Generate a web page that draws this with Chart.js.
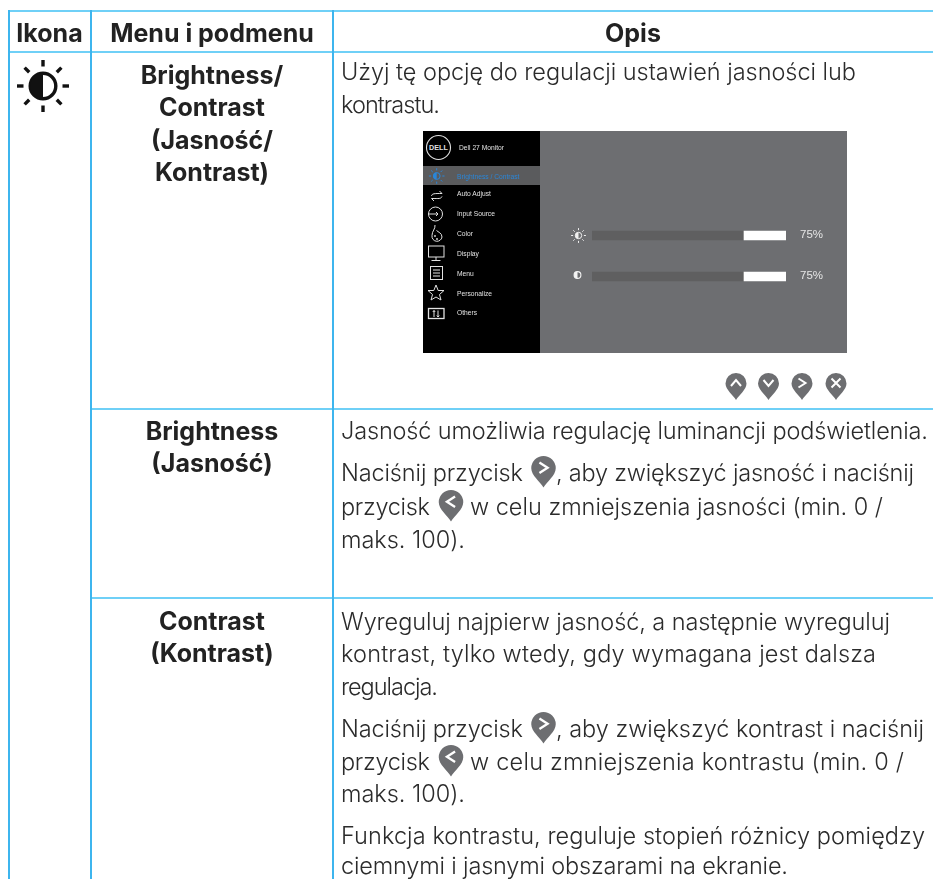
<!DOCTYPE html>
<html lang="pl"><head><meta charset="utf-8">
<script src="https://cdn.jsdelivr.net/npm/chart.js@4"></script>
<style>
html,body{margin:0;padding:0;background:#fff;overflow:hidden}
#page{position:relative;width:933px;height:879px;filter:blur(.3px);overflow:hidden}
.rule{position:absolute;background:#6fd0f7}
.v{background:#3db5ee}
.t{position:absolute;white-space:nowrap;transform:translateY(-50%);line-height:.9}
.head,.sub{font-family:"Inter",sans-serif;font-weight:700;font-size:25px;line-height:.9;color:#222}
.c{transform:translate(-50%,-50%)}
.body{font-family:"Inter",sans-serif;font-weight:300;font-size:23.5px;line-height:.9;color:#2b2b2b}
#osd{position:absolute;left:423px;top:131px;width:424px;height:222px;background:#6d6e71}
#side{position:absolute;left:0;top:0;width:117px;height:222px;background:#000}
#hi{position:absolute;left:0;top:35px;width:117px;height:19px;background:#5a5b5d}
.m{position:absolute;left:34px;font:6.7px "Liberation Sans",sans-serif;color:#e2e2e2;transform:translateY(-50%);white-space:nowrap;filter:blur(.2px)}
svg{position:absolute;overflow:visible}
canvas{position:absolute;left:117px;top:0}
</style></head><body><div id="page">
<div id="osd"><div id="side"><div id="hi"></div></div><canvas id="bars" width="307" height="222"></canvas></div>
</div>
<script>
const categories=['Brightness','Contrast'];
const values=[75,75];
const tickLabels=['75%','75%'];
const axisStart=-15.5, axisEnd=100;
const headers=['Ikona','Menu i podmenu','Opis'];
const menuTitle='Dell 27 Monitor';
const menuItems=['Brightness / Contrast','Auto Adjust','Input Source','Color','Display','Menu','Personalize','Others'];
const subLabels=['Brightness/','Contrast','(Jasność/','Kontrast)','Brightness','(Jasność)','Contrast','(Kontrast)'];
const bodyLines=['Użyj tę opcję do regulacji ustawień jasności lub','kontrastu.','Jasność umożliwia regulację luminancji podświetlenia.','maks. 100).','Wyreguluj najpierw jasność, a następnie wyreguluj','kontrast, tylko wtedy, gdy wymagana jest dalsza','regulacja.','maks. 100).','Funkcja kontrastu, reguluje stopień różnicy pomiędzy','ciemnymi i jasnymi obszarami na ekranie.'];
const pressLine='Naciśnij przycisk';
const pressBright=', aby zwiększyć jasność i naciśnij';
const pressContrast=', aby zwiększyć kontrast i naciśnij';
const btnWord='przycisk';
const lessBright='w celu zmniejszenia jasności (min. 0 /';
const lessContrast='w celu zmniejszenia kontrastu (min. 0 /';

/* page layout */
const subY=[74.6,106.6,139.6,171.6,430.6,462.6,620.6,652.6];
const bodyY=[71.6,104.6,430.6,539.6,621.6,653.6,686.6,793.6,835.6,865.6];
const bodyEnd=[856,440,928,465,890,876,438,465,925,788];
const page=document.getElementById('page');
function rule(x,y,w,h,c){const d=document.createElement('div');d.className='rule '+(c||'');d.style.cssText=`left:${x}px;top:${y}px;width:${w}px;height:${h}px`;page.appendChild(d);}
rule(7.5,10,926,2);rule(7.5,51,926,2);rule(91,407.5,842,2);rule(91,597,842,2);
rule(7.5,10,2,869,'v');rule(90,10,2,869,'v');rule(332,10,2,869,'v');
function text(s,x,y,cls,end){const d=document.createElement('div');d.className='t '+cls;d.textContent=s;d.style.left=x+'px';d.style.top=y+'px';page.appendChild(d);
 if(end){const w=d.getBoundingClientRect().width;d.style.letterSpacing=((end-x-w)/(s.length-1))+'px';}return d;}
text(headers[0],49.5,32.6,'head c');text(headers[1],212,32.6,'head c');text(headers[2],633,32.6,'head c');
subLabels.forEach((l,i)=>text(l,212,subY[i],'sub c'));
bodyLines.forEach((l,i)=>text(l,341,bodyY[i],'body',bodyEnd[i]));
text(pressLine,341,472.6,'body',523);text(pressLine,341,728.6,'body',523);
text(btnWord,341,506.6,'body',430);text(btnWord,341,761.6,'body',430);
text(pressBright,556,472.6,'body',914);text(pressContrast,556,728.6,'body',924);
text(lessBright,470,506.6,'body',883);text(lessContrast,470,761.6,'body',904);

function svg(html,parent){const s=document.createElementNS('http://www.w3.org/2000/svg','svg');s.setAttribute('width',1);s.setAttribute('height',1);s.style.left='0';s.style.top='0';s.innerHTML=html;(parent||page).appendChild(s);}
function sun(cx,cy,r,len,gap,sw,col,parent){let h='';for(let i=0;i<8;i++){const a=i*Math.PI/4,c=Math.cos(a),n=Math.sin(a);h+=`<line x1="${cx+c*gap}" y1="${cy+n*gap}" x2="${cx+c*(gap+len)}" y2="${cy+n*(gap+len)}" stroke="${col}" stroke-width="${sw}"/>`;}
h+=half(cx,cy,r,sw,col);svg(h,parent);}
function half(cx,cy,r,sw,col){return `<circle cx="${cx}" cy="${cy}" r="${r}" fill="none" stroke="${col}" stroke-width="${sw}"/><path d="M${cx} ${cy-r}A${r} ${r} 0 0 0 ${cx} ${cy+r}Z" fill="${col}"/>`;}
sun(43,86,12.8,6.5,19.5,3.4,'#111');
const chev={u:'M-5 2.5L0 -3.500L5 2.500',d:'M-5 -3.500L0 2.500L5 -3.500',r:'M-3.500 -5L3.500 -.5L-3.500 4',l:'M3.500 -5L-3.500 -.5L3.500 4',x:'M-4.500 -5L4.500 4M4.500 -5L-4.500 4'};
function pin(cx,top,w,k){const s=w/21,cy=10.5*s+top;
svg(`<g transform="translate(${cx} ${cy}) scale(${s})"><path d="M-10.5 0A10.5 10.5 0 0 1 10.5 0C10.5 6 3 11.5 0 16.5C-3 11.5 -10.5 6 -10.5 0Z" fill="#6d6e71"/><path d="${chev[k]}" fill="none" stroke="#fff" stroke-width="2"/></g>`);}
pin(736,373,21,'u');pin(768.500,373,21,'d');pin(802,373,21,'r');pin(836,373,21,'x');
pin(543.5,456,24.5,'r');pin(451,490,24.5,'l');pin(543.5,712,24.5,'r');pin(451,745,24.5,'l');

/* OSD side menu */
const side=document.getElementById('side'), osd=document.getElementById('osd');
const menuY=[44.5,62,82,102,122,142,162,181];
function mt(s,x,y,c){const d=document.createElement('div');d.className='m';d.textContent=s;d.style.left=x+'px';d.style.top=y+'px';if(c)d.style.color=c;side.appendChild(d);}
mt(menuTitle,36,16);
menuItems.forEach((m,i)=>mt(m,34,menuY[i],i==0?'#2a86d8':null));
const W='#e2e2e2';
svg(`<circle cx="15.5" cy="16.5" r="12" fill="none" stroke="${W}" stroke-width="1.1"/><text x="15.5" y="19" text-anchor="middle" font-family="Liberation Sans" font-weight="700" font-size="7.200" fill="${W}">DELL</text>`,side);
sun(13.7,45,3.4,2.2,5.6,1,'#2a86d8',side);
svg(`<g fill="none" stroke="${W}" stroke-width="1"><path d="M8.500 65C9 62.500 11 62.500 19 62.500L16.500 60M19 65.500C18 68 16 67.500 8.500 67.500L11 70"/><circle cx="12.500" cy="83" r="7"/><path d="M5 83H15M13 81L15 83L13 85"/><path d="M12 94C12.500 98 9 100 9 104.500A5 5 0 0 0 19 106C19 102 15 101 13.500 99.500"/><circle cx="12" cy="105" r=".6"/><circle cx="14" cy="108" r=".6"/><rect x="5.500" y="115" width="15.500" height="11"/><path d="M13 126V129M8.500 129.500H17.500"/><rect x="7.500" y="135.500" width="12" height="13"/><path d="M10 139H17M10 142H17M10 145H17"/><path d="M13 154L15.200 159.500H21L16.500 163.500L18 169L13 166L8 169L9.500 163.500L5 159.500H10.800Z"/><rect x="5.500" y="177.500" width="15.500" height="10" stroke-width="1.300"/><path d="M11 179.500V186M15 179.500V186M9.800 181L11 179.500L12.200 181M13.800 184.500L15 186L16.200 184.500"/></g>`,side);

/* Slider icons */
sun(155.5,104.5,3.2,2,5.4,1,'#f0f0f0',osd);
svg(half(154.5,144,3.4,1.1,'#f5f5f5'),osd);

new Chart(document.getElementById('bars'),{
 type:'bar',
 data:{labels:categories,datasets:[
  {data:values.map(v=>[v,axisEnd]),backgroundColor:'#ffffff',grouped:false,barThickness:9,order:1},
  {data:values.map(v=>[axisStart,v]),backgroundColor:'#5f5f60',grouped:false,barThickness:9,order:2}]},
 options:{indexAxis:'y',responsive:false,animation:false,events:[],
  layout:{padding:{left:52,top:84,bottom:56,right:0}},
  plugins:{legend:{display:false},tooltip:{enabled:false},title:{display:false}},
  scales:{
   x:{display:false,min:axisStart,max:axisEnd},
   y:{position:'right',grid:{display:false},border:{display:false},
      afterFit(s){s.width=61;},
      ticks:{padding:6,labelOffset:-1,color:'#e6e6e6',font:{family:'"Liberation Sans",sans-serif',size:11.5},callback:(v,i)=>tickLabels[i]}}
  }}
});
</script></body></html>
